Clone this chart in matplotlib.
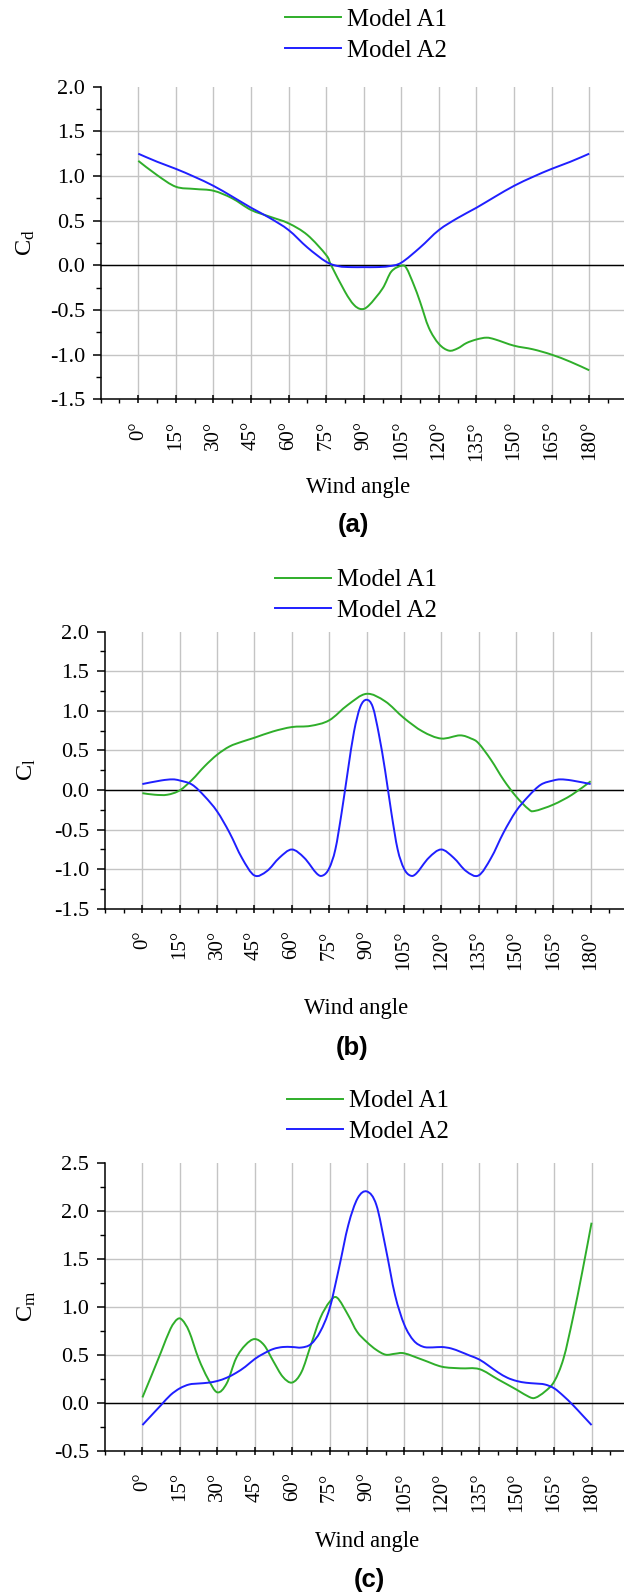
import matplotlib.pyplot as plt
from matplotlib.ticker import MultipleLocator
from matplotlib.path import Path
from matplotlib.patches import PathPatch
from matplotlib.lines import Line2D

plt.rcParams['font.family'] = ['Liberation Serif', 'DejaVu Serif']
plt.rcParams['mathtext.fontset'] = 'custom'
plt.rcParams['mathtext.rm'] = 'Liberation Serif'
plt.rcParams['mathtext.it'] = 'Liberation Serif:italic'

W, H = 624, 1593

angle_ticks = list(range(0, 181, 15))
angle_labels = [f'{a}°' for a in angle_ticks]
series_names = ['Model A1', 'Model A2']

# drag coefficient
cd_a1_ang = [0, 7.5, 15, 22.5, 30, 37.5, 45, 52.5, 60, 67.5, 75, 77, 82.5, 86, 89, 92,
             97.5, 101, 105, 107, 110, 112.5, 116, 120, 124, 127.5, 131, 135, 139,
             142.5, 150, 157.5, 165, 172.5, 180]
cd_a1 = [1.17, 1.01, 0.88, 0.855, 0.835, 0.75, 0.62, 0.545, 0.47, 0.34, 0.115, 0.0,
         -0.295, -0.44, -0.49, -0.45, -0.26, -0.07, -0.005, -0.03, -0.22, -0.41, -0.70,
         -0.88, -0.955, -0.93, -0.87, -0.83, -0.81, -0.83, -0.90, -0.94, -1.0, -1.08, -1.175]
cd_a2_ang = [0, 7.5, 15, 22.5, 30, 37.5, 45, 52.5, 60, 67.5, 75, 80, 85, 90, 95, 100,
             105, 112.5, 120, 127.5, 135, 142.5, 150, 157.5, 165, 172.5, 180]
cd_a2 = [1.25, 1.16, 1.08, 0.99, 0.89, 0.77, 0.645, 0.53, 0.395, 0.2, 0.04, -0.01,
         -0.02, -0.02, -0.02, -0.01, 0.03, 0.2, 0.395, 0.53, 0.645, 0.77, 0.89, 0.99,
         1.08, 1.16, 1.25]

# lift coefficient
cl_a1_ang = [0, 5, 10, 15, 20, 25, 30, 35, 40, 45, 52.5, 60, 67.5, 75, 82.5, 90, 97.5,
             105, 112.5, 120, 127.5, 132, 135, 140, 145, 150, 155, 157.5, 165, 172.5, 180]
cl_a1 = [-0.04, -0.06, -0.06, -0.005, 0.13, 0.3, 0.445, 0.55, 0.61, 0.66, 0.74, 0.795,
         0.81, 0.88, 1.075, 1.215, 1.12, 0.91, 0.74, 0.65, 0.69, 0.65, 0.59, 0.38, 0.13,
         -0.08, -0.24, -0.265, -0.185, -0.06, 0.11]
cl_a2_ang = [0, 7.5, 12, 15, 20, 25, 30, 35, 40, 45, 50, 55, 60, 65, 70, 72.5, 75, 77.5,
             80, 82.5, 85, 87.5, 90, 92.5, 95, 97.5, 100, 102.5, 105, 107.5,
             110, 115, 120, 125, 130, 135, 140, 145, 150, 155, 160, 165, 168, 172.5, 180]
cl_a2 = [0.075, 0.12, 0.134, 0.12, 0.067, -0.08, -0.27, -0.54, -0.86, -1.08, -1.025,
         -0.857, -0.752, -0.857, -1.055, -1.08, -0.99, -0.75, -0.29, 0.24, 0.74, 1.05,
         1.14, 1.05, 0.7, 0.24, -0.29, -0.75, -0.99, -1.08, -1.055, -0.857,
         -0.752, -0.857, -1.025, -1.08, -0.86, -0.54, -0.27, -0.08, 0.067, 0.12, 0.134,
         0.12, 0.075]

# moment coefficient
cm_a1_ang = [0, 3.75, 7.5, 11.25, 14, 16, 18.75, 22.5, 26.25, 30, 33.75, 37.5, 41.25, 45,
             48.75, 52.5, 56.25, 60, 63.75, 67.5, 71.25, 75, 78, 82.5, 86, 90, 93.75,
             97.5, 101.25, 105, 112.5, 120, 127.5, 135, 142.5, 150, 155, 157.5, 161.25,
             165, 168.75, 172.5, 176.25, 180]
cm_a1 = [0.055, 0.29, 0.53, 0.77, 0.87, 0.86, 0.74, 0.46, 0.25, 0.108, 0.2, 0.46, 0.6,
         0.663, 0.6, 0.43, 0.27, 0.21, 0.32, 0.6, 0.88, 1.05, 1.094, 0.91, 0.74, 0.63,
         0.55, 0.5, 0.51, 0.514, 0.445, 0.375, 0.358, 0.35, 0.243, 0.135, 0.06, 0.052,
         0.115, 0.22, 0.46, 0.88, 1.36, 1.875]
cm_a2_ang = [0, 3.75, 7.5, 11.25, 15, 18.75, 22.5, 26.25, 30, 33.75, 37.5, 41.25, 45,
             48.75, 52.5, 56.25, 60, 63.75, 67.5, 71.25, 75, 78.75, 82.5, 86.25, 90,
             93.75, 97.5, 101.25, 105, 108.75, 112.5, 116.25, 120, 123.75, 127.5, 131.25,
             135, 138.75, 142.5, 146.25, 150, 153.75, 157.5, 161.25, 165, 168.75, 172.5,
             176.25, 180]
cm_a2 = [-0.233, -0.128, -0.024, 0.08, 0.15, 0.19, 0.2, 0.208, 0.226, 0.26, 0.31, 0.375,
         0.455, 0.514, 0.56, 0.58, 0.58, 0.575, 0.61, 0.74, 0.98, 1.4, 1.85, 2.13, 2.2,
         2.06, 1.61, 1.12, 0.81, 0.646, 0.583, 0.576, 0.58, 0.565, 0.53, 0.49, 0.45,
         0.385, 0.316, 0.26, 0.226, 0.208, 0.2, 0.19, 0.15, 0.07, -0.024, -0.128, -0.233]

GREEN = '#2fae2a'
BLUE = '#1f1fff'
GRID = '#c4c4c4'
LW = 1.4


def px_rect(left, top, right, bottom):
    return [left / W, 1 - bottom / H, (right - left) / W, (bottom - top) / H]


def spline_path(xs, ys):
    # Catmull-Rom through the points, written as cubic Bezier segments
    pts = list(zip(xs, ys))
    n = len(pts)
    verts, codes = [pts[0]], [Path.MOVETO]
    for i in range(n - 1):
        p0 = pts[max(i - 1, 0)]
        p1, p2 = pts[i], pts[i + 1]
        p3 = pts[min(i + 2, n - 1)]
        c1 = (p1[0] + (p2[0] - p0[0]) / 6, p1[1] + (p2[1] - p0[1]) / 6)
        c2 = (p2[0] - (p3[0] - p1[0]) / 6, p2[1] - (p3[1] - p1[1]) / 6)
        verts += [c1, c2, p2]
        codes += [Path.CURVE4] * 3
    return Path(verts, codes)


def panel(fig, rect, ylim, ylabel, a1, a2, leg_xy, ylab_xy, xlab_xy, tag, tag_xy):
    ax = fig.add_axes(px_rect(*rect))
    for (xs, ys), c in [(a1, GREEN), (a2, BLUE)]:
        ax.add_patch(PathPatch(spline_path(xs, ys), fill=False, edgecolor=c,
                               lw=LW, zorder=3))

    ax.set_xlim(-15, 195)
    ax.set_ylim(*ylim)
    ax.set_xticks(angle_ticks)
    ax.set_xticklabels(angle_labels)
    ax.xaxis.set_minor_locator(MultipleLocator(7.5))
    yt = [ylim[0] + 0.5 * i for i in range(int(round((ylim[1] - ylim[0]) / 0.5)) + 1)]
    ax.set_yticks(yt)
    ax.set_yticklabels([f'{v:.1f}' for v in yt])
    ax.yaxis.set_minor_locator(MultipleLocator(0.25))

    # grid: vertical at every major angle, horizontal inside the frame only
    for a in angle_ticks:
        ax.axvline(a, color=GRID, lw=1.0, zorder=0)
    for v in yt[1:-1]:
        ax.axhline(v, color=GRID, lw=1.0, zorder=0)
    ax.axhline(0, color='black', lw=1.0, zorder=2)

    for s in ['top', 'right']:
        ax.spines[s].set_visible(False)
    for s in ['left', 'bottom']:
        ax.spines[s].set_linewidth(1.1)

    ax.tick_params(axis='y', which='major', direction='out', length=5.8, width=1.1,
                   pad=5.5, labelsize=16)
    ax.tick_params(axis='y', which='minor', direction='out', length=3.6, width=1.0)
    ax.tick_params(axis='x', which='major', direction='inout', length=5.8, width=1.1,
                   pad=12.7, labelsize=15, labelrotation=90)
    ax.tick_params(axis='x', which='minor', direction='out', length=2.9, width=1.0)

    handles = [Line2D([], [], color=GREEN, lw=LW), Line2D([], [], color=BLUE, lw=LW)]
    fig.legend(handles, series_names, loc='center left',
               bbox_to_anchor=(leg_xy[0] / W, 1 - leg_xy[1] / H),
               frameon=False, borderpad=0, borderaxespad=0, handlelength=2.27,
               handletextpad=0.25, labelspacing=0.35, fontsize=17.8)

    fig.text(ylab_xy[0] / W, 1 - ylab_xy[1] / H, ylabel, rotation=90,
             ha='center', va='center', fontsize=17.5)
    fig.text(xlab_xy[0] / W, 1 - xlab_xy[1] / H, 'Wind angle',
             ha='center', va='center', fontsize=16.3)
    fig.text(tag_xy[0] / W, 1 - tag_xy[1] / H, tag, ha='center', va='center',
             fontsize=18.5, fontweight='bold', family='Liberation Sans')
    return ax


fig = plt.figure(figsize=(W / 100, H / 100), dpi=100)

panel(fig, (100.7, 86.7, 626.8, 399.3), (-1.5, 2.0), r'C$_\mathrm{d}$',
      (cd_a1_ang, cd_a1), (cd_a2_ang, cd_a2),
      (284.5, 35), (25.5, 243), (358, 487), '(a)', (353.4, 525))

panel(fig, (105, 631.7, 628, 908.7), (-1.5, 2.0), r'C$_\mathrm{l}$',
      (cl_a1_ang, cl_a1), (cl_a2_ang, cl_a2),
      (274.6, 595.5), (27, 770), (356, 1009), '(b)', (352.5, 1047.5))

panel(fig, (105, 1162.7, 629, 1450.7), (-0.5, 2.5), r'C$_\mathrm{m}$',
      (cm_a1_ang, cm_a1), (cm_a2_ang, cm_a2),
      (287, 1116.5), (27, 1306.7), (366.7, 1541), '(c)', (369.5, 1580))

fig.savefig('out.png', dpi=100)
